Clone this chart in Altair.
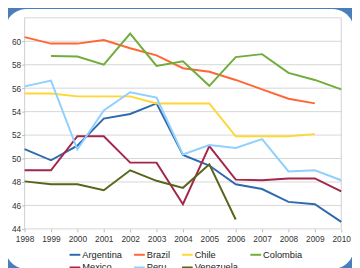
import altair as alt
import pandas as pd

years = list(range(1998, 2011))
argentina = [50.8, 49.85, 51.1, 53.4, 53.8, 54.7, 50.3, 49.4, 47.8, 47.4, 46.3, 46.1, 44.6]
brazil = [60.35, 59.8, 59.8, 60.1, 59.4, 58.8, 57.7, 57.4, 56.7, 55.9, 55.1, 54.7, None]
chile = [55.55, 55.55, 55.3, 55.3, 55.3, 54.7, 54.7, 54.7, 51.9, 51.9, 51.9, 52.08, None]
colombia = [None, 58.75, 58.7, 58.0, 60.65, 57.9, 58.3, 56.2, 58.65, 58.9, 57.3, 56.7, 55.9]
mexico = [49.0, 49.0, 51.9, 51.9, 49.65, 49.65, 46.1, 51.05, 48.2, 48.15, 48.3, 48.3, 47.2]
peru = [56.15, 56.65, 50.77, 54.1, 55.65, 55.2, 50.35, 51.15, 50.9, 51.65, 48.9, 49.0, 48.15]
venezuela = [48.05, 47.8, 47.8, 47.3, 49.0, 48.1, 47.5, 49.5, 44.8, None, None, None, None]

countries = ["Argentina", "Brazil", "Chile", "Colombia", "Mexico", "Peru", "Venezuela"]
series = [argentina, brazil, chile, colombia, mexico, peru, venezuela]
colors = ["#2f69ae", "#ff6633", "#ffd633", "#70ad3a", "#a3264a", "#8fd0ff", "#56661a"]
y_ticks = [44, 46, 48, 50, 52, 54, 56, 58, 60, 62]
y_labels = [44, 46, 48, 50, 52, 54, 56, 58, 60]

rows = []
for c, vals in zip(countries, series):
    for yr, v in zip(years, vals):
        if v is not None:
            rows.append({"Year": yr, "Country": c, "Value": v})
df = pd.DataFrame(rows)

FONT = "Liberation Sans"

xscale = alt.Scale(domain=[1998, 2010], nice=False, zero=False)
yscale = alt.Scale(domain=[44, 62], nice=False, zero=False)

xaxis = alt.Axis(values=years, format="d", grid=False, domain=False,
                 tickSize=3, tickColor="#bbbbbb", labelPadding=3,
                 labelFont=FONT, labelFontSize=8.5, labelColor="#333333",
                 labelOverlap=False, labelFlush=False, zindex=1)
yaxis = alt.Axis(values=y_labels, grid=False, domain=False,
                 tickSize=3, tickColor="#bbbbbb", labelPadding=1,
                 labelFont=FONT, labelFontSize=8.5, labelColor="#333333",
                 labelOverlap=False, labelFlush=False, zindex=1)

panel = alt.Chart(pd.DataFrame({"a": [0]})).mark_rect(
    color="white", cornerRadius=22
).encode(
    x=alt.value(-20), x2=alt.value(337), y=alt.value(-9), y2=alt.value(257)
)

grid = alt.Chart(pd.DataFrame({"v": y_ticks})).mark_rule(
    color="#d6d6d6", strokeWidth=1
).encode(y=alt.Y("v:Q", scale=yscale, title=None, axis=yaxis))

border = alt.Chart(pd.DataFrame({"yr": [1998, 2010]})).mark_rule(
    color="#d0d0d0", strokeWidth=1
).encode(x=alt.X("yr:Q", scale=xscale, title=None, axis=xaxis))

lines = alt.Chart(df).mark_line(strokeWidth=2).encode(
    x=alt.X("Year:Q", scale=xscale, title=None, axis=xaxis),
    y=alt.Y("Value:Q", scale=yscale, title=None, axis=yaxis),
    color=alt.Color("Country:N", scale=alt.Scale(domain=countries, range=colors),
                    legend=alt.Legend(orient="none", legendX=45, legendY=236,
                                      direction="horizontal", columns=4, title=None,
                                      symbolType="stroke", symbolSize=121,
                                      symbolStrokeWidth=2, labelFont=FONT,
                                      labelFontSize=9.5, labelColor="#222222",
                                      labelOffset=1, columnPadding=8, rowPadding=2)),
)

chart = alt.layer(panel, grid, border, lines).properties(
    width=324, height=216,
    autosize=alt.AutoSizeParams(type="none"),
    padding={"left": 17, "top": 7, "right": 11, "bottom": 37},
    background="#4a7ebb",
).configure_view(stroke=None)

chart.save("out.html", embed_options={"renderer": "svg", "actions": False})
